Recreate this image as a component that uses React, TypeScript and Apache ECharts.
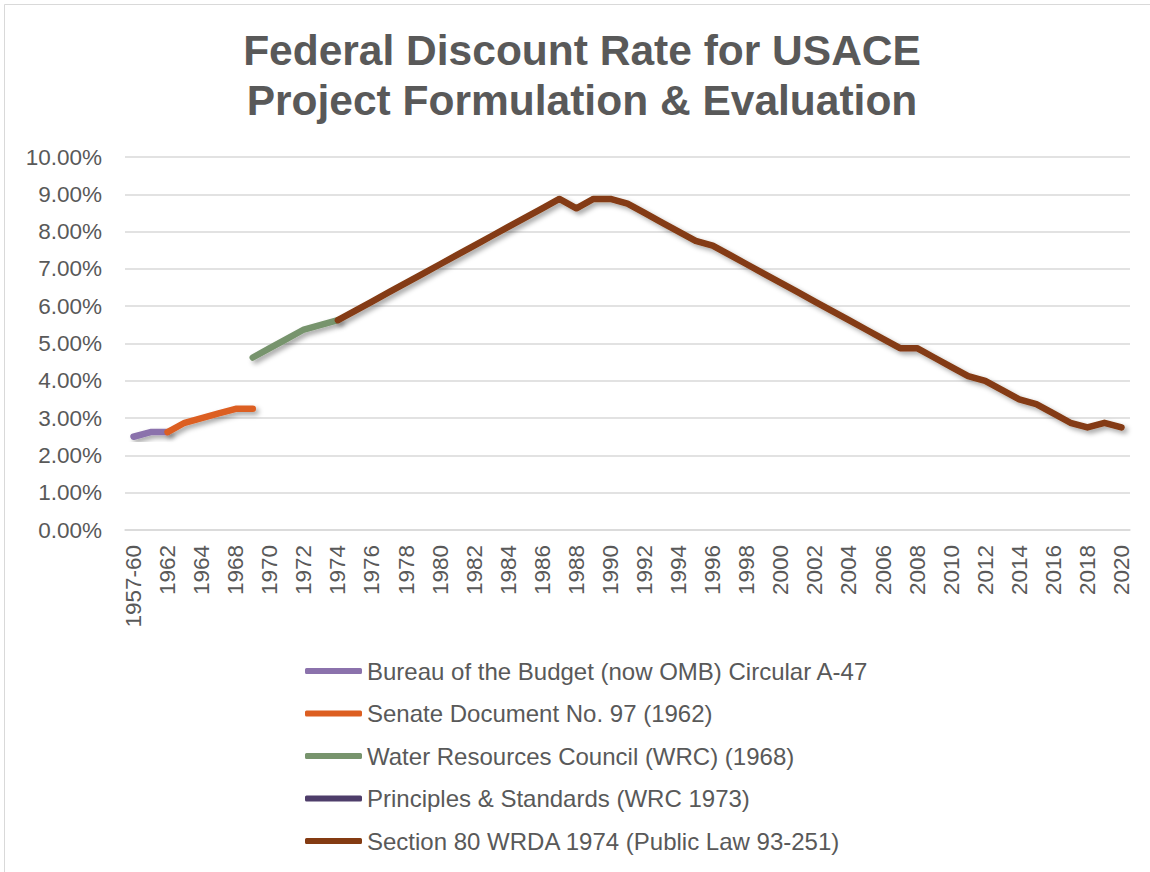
import React, { useEffect, useRef } from "react";
import * as echarts from "echarts";

const titleLines = ["Federal Discount Rate for USACE", "Project Formulation & Evaluation"];

const categories = [
  "1957-60", "1961", "1962", "1963", "1964", "1965-67", "1968", "1969",
  "1970", "1971", "1972", "1973", "1974", "1975", "1976", "1977", "1978", "1979",
  "1980", "1981", "1982", "1983", "1984", "1985", "1986", "1987", "1988", "1989",
  "1990", "1991", "1992", "1993", "1994", "1995", "1996", "1997", "1998", "1999",
  "2000", "2001", "2002", "2003", "2004", "2005", "2006", "2007", "2008", "2009",
  "2010", "2011", "2012", "2013", "2014", "2015", "2016", "2017", "2018", "2019", "2020",
];

const seriesNames = [
  "Bureau of the Budget (now OMB) Circular A-47",
  "Senate Document No. 97 (1962)",
  "Water Resources Council (WRC) (1968)",
  "Principles & Standards (WRC 1973)",
  "Section 80 WRDA 1974 (Public Law 93-251)",
];

const seriesColors = ["#8B72AC", "#DC5E21", "#77946D", "#4E3D6A", "#843B12"];

// values by category index (null = not in effect)
const budgetA47: (number | null)[] = [2.5, 2.625, 2.625];
const senateDoc97: (number | null)[] = [null, null, 2.625, 2.875, 3.0, 3.125, 3.25, 3.25];
const wrc1968: (number | null)[] = [null, null, null, null, null, null, null, 4.625, 4.875, 5.125, 5.375, 5.5, 5.625];
const ps1973: (number | null)[] = [null, null, null, null, null, null, null, null, null, null, null, 5.5];
const section80Start = 12;
const section80: number[] = [
  5.625, 5.875, 6.125, 6.375, 6.625, 6.875, 7.125, 7.375, 7.625, 7.875, 8.125, 8.375, 8.625,
  8.875, 8.625, 8.875, 8.875, 8.75, 8.5, 8.25, 8.0, 7.75, 7.625, 7.375, 7.125, 6.875, 6.625,
  6.375, 6.125, 5.875, 5.625, 5.375, 5.125, 4.875, 4.875, 4.625, 4.375, 4.125, 4.0, 3.75,
  3.5, 3.375, 3.125, 2.875, 2.75, 2.875, 2.75,
];

const yMin = 0;
const yMax = 10;
const yInterval = 1;

function pad(arr: (number | null)[], offset = 0): (number | null)[] {
  const out: (number | null)[] = categories.map(() => null);
  arr.forEach((v, i) => {
    if (i + offset < out.length) out[i + offset] = v;
  });
  return out;
}

export default function App() {
  const ref = useRef<HTMLDivElement>(null);

  useEffect(() => {
    if (!ref.current) return;
    const chart = echarts.init(ref.current, null, { renderer: "svg" });
    const font = "'Liberation Sans', Arial, sans-serif";
    const dataSets = [pad(budgetA47), pad(senateDoc97), pad(wrc1968), pad(ps1973), pad(section80, section80Start)];

    chart.setOption({
      animation: false,
      backgroundColor: "#ffffff",
      textStyle: { fontFamily: font },
      graphic: [
        {
          type: "rect",
          shape: { x: 4.5, y: 4.5, width: 1200, height: 900 },
          style: { fill: "none", stroke: "#d9d9d9", lineWidth: 1 },
          silent: true,
        },
        {
          type: "text",
          x: 582,
          y: 25,
          style: {
            text: titleLines.join("\n"),
            align: "center",
            verticalAlign: "top",
            fontSize: 42.5,
            lineHeight: 50,
            fontWeight: "bold",
            fontFamily: font,
            fill: "#595959",
          },
        },
      ],
      grid: { left: 125, right: 20, top: 157, bottom: 342, containLabel: false },
      legend: {
        orient: "vertical",
        left: 300,
        top: 654,
        icon: "roundRect",
        itemWidth: 57,
        itemHeight: 6,
        itemGap: 18.5,
        textStyle: { fontSize: 24, color: "#595959", fontFamily: font },
        data: seriesNames,
      },
      xAxis: {
        type: "category",
        data: categories,
        boundaryGap: true,
        axisLine: { lineStyle: { color: "#d9d9d9", width: 1.5 } },
        axisTick: { show: false },
        axisLabel: {
          rotate: 90,
          interval: 1,
          margin: 15,
          fontSize: 22.5,
          color: "#595959",
          fontFamily: font,
        },
      },
      yAxis: {
        type: "value",
        min: yMin,
        max: yMax,
        interval: yInterval,
        axisLine: { show: false },
        axisTick: { show: false },
        splitLine: { lineStyle: { color: "#d9d9d9", width: 1.5 } },
        axisLabel: {
          formatter: (v: number) => v.toFixed(2) + "%",
          fontSize: 22.5,
          margin: 23,
          color: "#595959",
          fontFamily: font,
        },
      },
      series: seriesNames.map((name, i) => ({
        name,
        type: "line",
        data: dataSets[i],
        showSymbol: false,
        symbol: "none",
        connectNulls: false,
        color: seriesColors[i],
        itemStyle: { color: seriesColors[i] },
        lineStyle: {
          color: seriesColors[i],
          width: 6.5,
          cap: "round",
          join: "round",
          shadowBlur: 5,
          shadowOffsetX: 3,
          shadowOffsetY: 3,
          shadowColor: "rgba(0,0,0,0.35)",
        },
        z: 2 + i,
      })),
    });

    return () => chart.dispose();
  }, []);

  return (
    <div
      ref={ref}
      style={{ position: "fixed", left: 0, top: 0, width: 1150, height: 872 }}
    />
  );
}
